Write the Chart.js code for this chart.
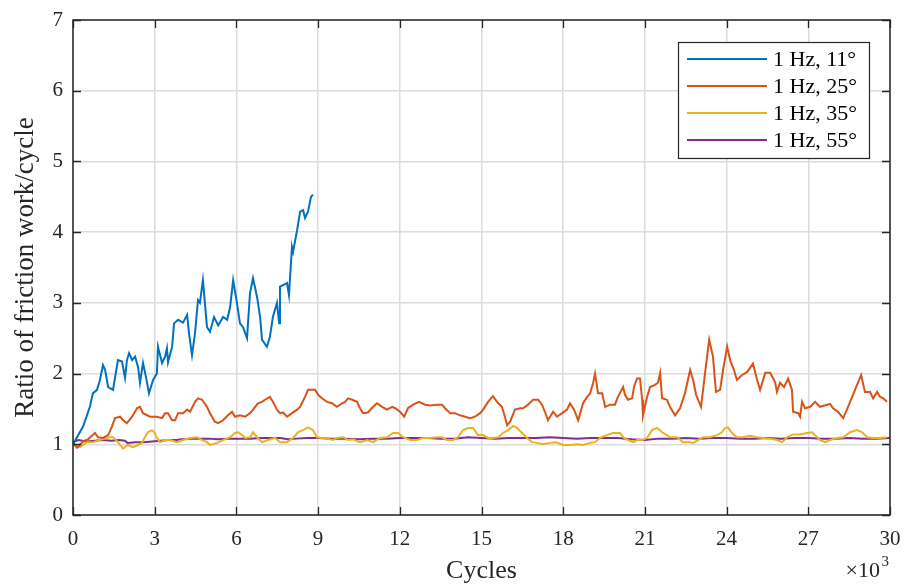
<!DOCTYPE html>
<html>
<head>
<meta charset="utf-8">
<script src="https://cdn.jsdelivr.net/npm/chart.js@4"></script>
<style>
  body { margin: 0; background: #fff; }
  #wrap { width: 905px; height: 585px; }
</style>
</head>
<body>
<div id="wrap"><canvas id="chartFriction" width="905" height="585"></canvas></div>
<script>
// cycles in thousands, ratio of friction work per cycle
const cycles11 = [0, 0.37, 0.62, 0.73, 0.88, 0.99, 1.10, 1.18, 1.29, 1.47, 1.65, 1.80, 1.91, 1.98, 2.06, 2.17, 2.28, 2.39, 2.46, 2.57, 2.68, 2.79, 2.94, 3.08, 3.12, 3.27, 3.38, 3.45, 3.49, 3.64, 3.71, 3.86, 4.04, 4.19, 4.26, 4.37, 4.48, 4.59, 4.66, 4.77, 4.92, 5.03, 5.18, 5.33, 5.51, 5.66, 5.77, 5.88, 6.02, 6.13, 6.24, 6.39, 6.50, 6.61, 6.76, 6.87, 6.94, 7.12, 7.23, 7.34, 7.49, 7.57, 7.60, 7.86, 7.93, 8.04, 8.08, 8.23, 8.34, 8.45, 8.52, 8.63, 8.74, 8.81];
const ratio11 = [1.00, 1.25, 1.53, 1.72, 1.77, 1.91, 2.12, 2.05, 1.81, 1.77, 2.19, 2.17, 1.94, 2.19, 2.29, 2.19, 2.24, 2.09, 1.87, 2.15, 1.95, 1.72, 1.91, 2.00, 2.38, 2.15, 2.24, 2.36, 2.16, 2.38, 2.71, 2.76, 2.72, 2.83, 2.57, 2.26, 2.57, 3.04, 3.00, 3.32, 2.66, 2.59, 2.80, 2.68, 2.80, 2.76, 2.94, 3.32, 3.00, 2.71, 2.66, 2.50, 3.14, 3.35, 3.08, 2.80, 2.48, 2.38, 2.52, 2.80, 3.00, 2.71, 3.23, 3.28, 3.11, 3.79, 3.72, 4.03, 4.29, 4.31, 4.20, 4.29, 4.50, 4.53];

const cycles25 = [0, 0.15, 0.37, 0.55, 0.81, 0.92, 1.10, 1.29, 1.43, 1.54, 1.73, 1.84, 1.98, 2.17, 2.35, 2.46, 2.57, 2.83, 3.08, 3.27, 3.38, 3.49, 3.64, 3.75, 3.86, 4.04, 4.19, 4.30, 4.48, 4.59, 4.74, 4.92, 5.03, 5.21, 5.33, 5.51, 5.69, 5.84, 5.95, 6.13, 6.32, 6.50, 6.61, 6.79, 6.94, 7.05, 7.23, 7.34, 7.49, 7.60, 7.71, 7.86, 8.04, 8.23, 8.34, 8.52, 8.63, 8.89, 9.00, 9.14, 9.33, 9.51, 9.69, 9.88, 9.99, 10.10, 10.25, 10.43, 10.54, 10.65, 10.83, 11.02, 11.16, 11.35, 11.53, 11.72, 11.83, 12.01, 12.16, 12.30, 12.49, 12.71, 12.93, 13.11, 13.37, 13.55, 13.66, 13.85, 14.03, 14.21, 14.40, 14.58, 14.76, 14.95, 15.06, 15.24, 15.42, 15.57, 15.75, 15.86, 15.94, 16.05, 16.23, 16.42, 16.53, 16.71, 16.89, 17.08, 17.22, 17.33, 17.44, 17.63, 17.77, 17.96, 18.14, 18.25, 18.40, 18.55, 18.73, 18.88, 18.99, 19.10, 19.17, 19.28, 19.43, 19.54, 19.72, 19.90, 20.01, 20.20, 20.27, 20.38, 20.53, 20.60, 20.71, 20.82, 20.90, 20.93, 21.08, 21.19, 21.37, 21.48, 21.56, 21.63, 21.81, 21.92, 22.11, 22.29, 22.47, 22.66, 22.77, 22.88, 23.06, 23.21, 23.36, 23.50, 23.61, 23.76, 23.87, 24.02, 24.13, 24.27, 24.38, 24.57, 24.75, 24.97, 25.12, 25.23, 25.42, 25.60, 25.78, 25.85, 25.96, 26.11, 26.26, 26.40, 26.44, 26.63, 26.70, 26.77, 26.88, 27.07, 27.25, 27.43, 27.69, 27.80, 27.91, 28.09, 28.28, 28.42, 28.61, 28.79, 28.94, 29.08, 29.27, 29.38, 29.53, 29.64, 29.75, 29.89];
const ratio25 = [1.02, 0.95, 1.04, 1.07, 1.16, 1.10, 1.09, 1.13, 1.25, 1.37, 1.39, 1.34, 1.30, 1.39, 1.51, 1.53, 1.44, 1.39, 1.39, 1.37, 1.44, 1.44, 1.34, 1.34, 1.44, 1.44, 1.49, 1.46, 1.60, 1.65, 1.63, 1.53, 1.44, 1.32, 1.30, 1.34, 1.41, 1.46, 1.39, 1.41, 1.39, 1.44, 1.49, 1.58, 1.60, 1.63, 1.67, 1.60, 1.49, 1.44, 1.45, 1.39, 1.44, 1.49, 1.53, 1.67, 1.77, 1.77, 1.70, 1.65, 1.60, 1.58, 1.53, 1.58, 1.60, 1.65, 1.63, 1.60, 1.51, 1.44, 1.45, 1.53, 1.58, 1.53, 1.49, 1.53, 1.51, 1.46, 1.39, 1.51, 1.56, 1.60, 1.56, 1.55, 1.56, 1.56, 1.51, 1.44, 1.44, 1.41, 1.39, 1.37, 1.39, 1.44, 1.49, 1.60, 1.68, 1.60, 1.53, 1.39, 1.27, 1.32, 1.49, 1.51, 1.51, 1.56, 1.63, 1.63, 1.56, 1.46, 1.34, 1.46, 1.39, 1.44, 1.49, 1.58, 1.49, 1.34, 1.58, 1.67, 1.72, 1.87, 2.00, 1.72, 1.72, 1.53, 1.56, 1.56, 1.67, 1.81, 1.70, 1.63, 1.65, 1.81, 1.93, 1.93, 1.63, 1.41, 1.67, 1.81, 1.84, 1.87, 2.01, 1.65, 1.63, 1.53, 1.41, 1.51, 1.72, 2.05, 1.91, 1.70, 1.53, 2.01, 2.48, 2.24, 1.74, 1.77, 2.05, 2.38, 2.19, 2.05, 1.91, 1.98, 2.02, 2.14, 1.91, 1.77, 2.01, 2.01, 1.88, 1.74, 1.87, 1.81, 1.93, 1.77, 1.46, 1.44, 1.39, 1.60, 1.51, 1.53, 1.60, 1.53, 1.56, 1.57, 1.51, 1.46, 1.37, 1.49, 1.67, 1.84, 1.98, 1.74, 1.74, 1.65, 1.74, 1.67, 1.65, 1.60];

const cycles35 = [0, 0.26, 0.51, 0.73, 0.99, 1.25, 1.36, 1.47, 1.65, 1.84, 2.02, 2.20, 2.39, 2.53, 2.64, 2.75, 2.90, 3.01, 3.08, 3.20, 3.38, 3.56, 3.82, 4.04, 4.30, 4.55, 4.74, 4.92, 5.03, 5.29, 5.51, 5.77, 5.95, 6.06, 6.21, 6.32, 6.50, 6.61, 6.76, 6.94, 7.16, 7.42, 7.60, 7.86, 8.08, 8.26, 8.45, 8.63, 8.81, 8.96, 9.14, 9.33, 9.55, 9.69, 9.92, 10.10, 10.28, 10.54, 10.80, 11.02, 11.27, 11.53, 11.75, 11.94, 12.12, 12.38, 12.63, 12.85, 13.11, 13.37, 13.55, 13.73, 13.96, 14.14, 14.32, 14.51, 14.69, 14.87, 15.06, 15.24, 15.42, 15.61, 15.79, 15.98, 16.16, 16.31, 16.49, 16.67, 16.86, 17.04, 17.26, 17.52, 17.70, 17.81, 17.99, 18.25, 18.51, 18.73, 18.99, 19.17, 19.35, 19.61, 19.83, 20.09, 20.20, 20.38, 20.57, 20.71, 20.90, 21.08, 21.26, 21.45, 21.63, 21.81, 21.92, 22.18, 22.40, 22.66, 22.77, 22.95, 23.14, 23.39, 23.65, 23.83, 23.94, 24.05, 24.20, 24.38, 24.60, 24.86, 25.12, 25.34, 25.60, 25.85, 26.04, 26.22, 26.44, 26.70, 26.95, 27.14, 27.25, 27.43, 27.62, 27.80, 28.06, 28.28, 28.53, 28.79, 28.98, 29.16, 29.38, 29.64, 29.89];
const ratio35 = [0.99, 0.96, 1.03, 1.03, 1.06, 1.09, 1.10, 1.10, 1.03, 0.94, 0.99, 0.96, 0.99, 1.02, 1.10, 1.17, 1.20, 1.16, 1.09, 1.03, 1.06, 1.06, 1.03, 1.06, 1.09, 1.10, 1.06, 1.03, 0.99, 1.02, 1.06, 1.10, 1.16, 1.17, 1.13, 1.09, 1.10, 1.17, 1.10, 1.03, 1.06, 1.09, 1.03, 1.03, 1.09, 1.17, 1.20, 1.24, 1.20, 1.10, 1.09, 1.08, 1.06, 1.09, 1.10, 1.06, 1.07, 1.03, 1.06, 1.03, 1.09, 1.10, 1.16, 1.16, 1.10, 1.06, 1.06, 1.09, 1.09, 1.10, 1.10, 1.06, 1.06, 1.10, 1.20, 1.23, 1.23, 1.13, 1.13, 1.09, 1.09, 1.10, 1.16, 1.20, 1.26, 1.23, 1.16, 1.09, 1.03, 1.02, 1.00, 1.02, 1.03, 1.02, 0.99, 0.99, 1.00, 0.99, 1.02, 1.03, 1.09, 1.13, 1.16, 1.16, 1.10, 1.06, 1.03, 1.06, 1.06, 1.09, 1.20, 1.23, 1.17, 1.13, 1.10, 1.10, 1.03, 1.03, 1.02, 1.06, 1.10, 1.10, 1.13, 1.17, 1.23, 1.24, 1.16, 1.10, 1.10, 1.12, 1.10, 1.09, 1.08, 1.06, 1.03, 1.10, 1.14, 1.14, 1.16, 1.17, 1.13, 1.06, 1.03, 1.06, 1.09, 1.10, 1.17, 1.20, 1.17, 1.10, 1.09, 1.09, 1.10];

const cycles55 = [0, 0.2, 0.5, 0.8, 1.1, 1.4, 1.7, 1.9, 2.0, 2.3, 2.6, 2.9, 3.2, 3.5, 3.8, 4.0, 4.3, 4.6, 5.0, 5.3, 5.7, 6.1, 6.5, 6.9, 7.3, 7.6, 7.9, 8.2, 8.6, 9.0, 9.5, 10.0, 10.5, 11.0, 11.5, 12.0, 12.5, 13.0, 13.5, 14.0, 14.5, 15.0, 15.5, 16.0, 16.5, 17.0, 17.5, 18.0, 18.5, 19.0, 19.5, 20.0, 20.5, 21.0, 21.5, 22.0, 22.5, 23.0, 23.5, 24.0, 24.5, 25.0, 25.5, 26.0, 26.5, 27.0, 27.5, 28.0, 28.5, 29.0, 29.5, 30.0];
const ratio55 = [1.03, 1.06, 1.04, 1.05, 1.06, 1.05, 1.06, 1.05, 1.02, 1.03, 1.03, 1.04, 1.05, 1.06, 1.06, 1.07, 1.08, 1.08, 1.08, 1.07, 1.08, 1.08, 1.08, 1.09, 1.09, 1.09, 1.07, 1.08, 1.09, 1.09, 1.08, 1.08, 1.07, 1.08, 1.08, 1.09, 1.09, 1.09, 1.08, 1.08, 1.10, 1.09, 1.08, 1.09, 1.09, 1.09, 1.10, 1.09, 1.08, 1.09, 1.09, 1.09, 1.07, 1.06, 1.08, 1.08, 1.09, 1.08, 1.09, 1.09, 1.08, 1.08, 1.09, 1.08, 1.09, 1.09, 1.08, 1.08, 1.09, 1.08, 1.08, 1.09];

const seriesLabels = ['1 Hz, 11°', '1 Hz, 25°', '1 Hz, 35°', '1 Hz, 55°'];
const seriesColors = ['#0072BD', '#D95319', '#EDB120', '#7E2F8E'];
const xTicks = [0, 3, 6, 9, 12, 15, 18, 21, 24, 27, 30];
const yTicks = [0, 1, 2, 3, 4, 5, 6, 7];

const FONT = '"Liberation Serif", "DejaVu Serif", serif';
const INK = '#262626';

function toPoints(xs, ys) {
    return xs.map((x, i) => ({ x: x, y: ys[i] }));
}

// box, inward ticks, legend and the x10^3 exponent
const axesDecor = {
    id: 'axesDecor',
    afterDatasetsDraw(chart) {
        const ctx = chart.ctx;
        const a = chart.chartArea;
        const xs = chart.scales.x, ys = chart.scales.y;
        ctx.save();
        ctx.strokeStyle = INK;
        ctx.lineWidth = 1.3;
        ctx.beginPath();
        xTicks.forEach(v => {
            const px = Math.round(xs.getPixelForValue(v)) + 0.5;
            ctx.moveTo(px, a.bottom); ctx.lineTo(px, a.bottom - 8);
            ctx.moveTo(px, a.top); ctx.lineTo(px, a.top + 8);
        });
        yTicks.forEach(v => {
            const py = Math.round(ys.getPixelForValue(v)) + 0.5;
            ctx.moveTo(a.left, py); ctx.lineTo(a.left + 8, py);
            ctx.moveTo(a.right, py); ctx.lineTo(a.right - 8, py);
        });
        ctx.stroke();
        ctx.lineWidth = 1.5;
        ctx.strokeRect(a.left, a.top, a.right - a.left, a.bottom - a.top);

        // legend in the upper right corner
        const bx = a.right - 212, by = a.top + 22, bw = 191, bh = 116;
        ctx.fillStyle = '#fff';
        ctx.fillRect(bx, by, bw, bh);
        ctx.lineWidth = 1.2;
        ctx.strokeRect(bx + 0.5, by + 0.5, bw, bh);
        ctx.font = '22px ' + FONT;
        ctx.textBaseline = 'middle';
        ctx.textAlign = 'left';
        chart.data.datasets.forEach((ds, i) => {
            const ry = by + 17 + i * 27;
            ctx.strokeStyle = ds.borderColor;
            ctx.lineWidth = 2;
            ctx.beginPath();
            ctx.moveTo(bx + 9, ry); ctx.lineTo(bx + 89, ry);
            ctx.stroke();
            ctx.fillStyle = '#000';
            ctx.fillText(ds.label, bx + 95, ry + 1);
        });

        ctx.fillStyle = INK;
        ctx.textAlign = 'right';
        ctx.textBaseline = 'alphabetic';
        ctx.font = '22px ' + FONT;
        ctx.fillText('×10', a.right - 10, a.bottom + 62);
        ctx.font = '15px ' + FONT;
        ctx.fillText('3', a.right - 1, a.bottom + 51);
        ctx.restore();
    }
};

const datasets = [
    toPoints(cycles11, ratio11),
    toPoints(cycles25, ratio25),
    toPoints(cycles35, ratio35),
    toPoints(cycles55, ratio55)
].map((pts, i) => ({
    label: seriesLabels[i],
    data: pts,
    borderColor: seriesColors[i],
    backgroundColor: seriesColors[i],
    borderWidth: 2,
    pointRadius: 0,
    tension: 0,
    order: i
}));

document.addEventListener("DOMContentLoaded", function(){
    const canvas = document.getElementById("chartFriction");
    new Chart(canvas, {
        type: 'line',
        data: { datasets: datasets },
        options: {
            responsive: false,
            animation: false,
            parsing: false,
            layout: {
                padding: { top: 20, right: 15, left: 0, bottom: 0 }
            },
            plugins: {
                legend: { display: false },
                tooltip: { enabled: false }
            },
            scales: {
                x: {
                    type: 'linear',
                    min: 0,
                    max: 30,
                    afterBuildTicks: s => { s.ticks = xTicks.map(v => ({ value: v })); },
                    grid: { color: '#dcdcdc', lineWidth: 1.5, drawTicks: false },
                    border: { display: false },
                    ticks: { color: INK, font: { family: FONT, size: 21 }, padding: 12, maxRotation: 0 },
                    title: { display: true, text: 'Cycles', color: INK, font: { family: FONT, size: 26, lineHeight: 1.05 }, padding: { top: 0, bottom: 0 } },
                    afterFit: s => { s.height = 70; s.paddingLeft = 0; s.paddingRight = 0; }
                },
                y: {
                    min: 0,
                    max: 7,
                    afterBuildTicks: s => { s.ticks = yTicks.map(v => ({ value: v })); },
                    grid: { color: '#dcdcdc', lineWidth: 1.5, drawTicks: false },
                    border: { display: false },
                    ticks: { color: INK, font: { family: FONT, size: 21 }, padding: 10 },
                    title: { display: true, text: 'Ratio of friction work/cycle', color: INK, font: { family: FONT, size: 27 }, padding: { top: 10, bottom: 0 } },
                    afterFit: s => { s.width = 73; s.paddingTop = 0; s.paddingBottom = 0; }
                }
            }
        },
        plugins: [axesDecor]
    });
});
</script>
</body>
</html>
